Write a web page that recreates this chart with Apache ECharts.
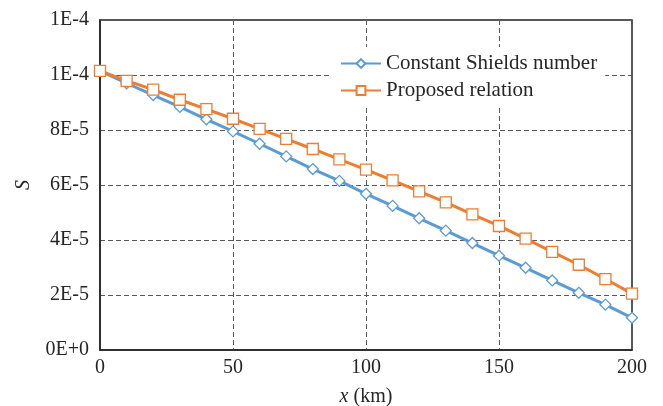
<!DOCTYPE html>
<html>
<head>
<meta charset="utf-8">
<script src="https://cdn.jsdelivr.net/npm/echarts@6/dist/echarts.min.js"></script>
<style>
  html, body { margin: 0; padding: 0; background: #fff; }
  #chart { width: 663px; height: 406px; }
</style>
</head>
<body>
<div id="chart"></div>
<script>
// Distance along the channel (km)
const distanceKm = [0, 10, 20, 30, 40, 50, 60, 70, 80, 90, 100, 110, 120, 130, 140, 150, 160, 170, 180, 190, 200];

// Slope S, in units of 1E-6
const constantShields = [101.5, 97.0, 92.7, 88.4, 83.9, 79.5, 75.0, 70.4, 65.8, 61.5, 56.8, 52.4, 47.9, 43.4, 38.9, 34.3, 29.9, 25.3, 20.8, 16.5, 11.7];
const proposedRelation = [101.5, 97.9, 94.7, 91.0, 87.6, 84.1, 80.4, 76.8, 73.1, 69.3, 65.6, 61.7, 57.7, 53.7, 49.3, 45.1, 40.5, 35.7, 31.0, 25.8, 20.5];

// Y-axis tick labels (scientific format with integer mantissa)
const yTickLabels = ['0E+0', '2E-5', '4E-5', '6E-5', '8E-5', '1E-4', '1E-4'];
const yStep = 2e-5;

const seriesNames = ['Constant Shields number', 'Proposed relation'];

const FONT = '"Liberation Serif", "Times New Roman", serif';
const TEXT = '#262626';

function pairs(ys) {
  return distanceKm.map((x, i) => [x, ys[i] * 1e-6]);
}

const chart = echarts.init(document.getElementById('chart'), null, { renderer: 'canvas' });

const gridLine = { show: true, lineStyle: { color: '#595959', type: [5, 3], width: 1 } };

chart.setOption({
  animation: false,
  backgroundColor: '#fff',
  textStyle: { fontFamily: FONT },
  grid: {
    left: 100, right: 31, top: 20, bottom: 56,
    outerBoundsMode: 'none',
    containLabel: false,
    show: true, borderColor: '#222', borderWidth: 1.5, backgroundColor: 'transparent'
  },
  legend: {
    left: 332, top: 47,
    orient: 'vertical',
    itemWidth: 40, itemHeight: 11, itemGap: 6,
    backgroundColor: '#fff',
    padding: [6, 8, 6, 8],
    textStyle: { fontFamily: FONT, fontSize: 21, color: TEXT },
    data: seriesNames
  },
  xAxis: {
    type: 'value',
    min: 0, max: 200, interval: 50,
    name: '{i|x} (km)',
    nameLocation: 'middle',
    nameGap: 37,
    nameTextStyle: {
      fontFamily: FONT, fontSize: 20, color: TEXT,
      rich: { i: { fontFamily: FONT, fontSize: 20, fontStyle: 'italic', color: TEXT } }
    },
    axisLine: { show: true, lineStyle: { color: '#222', width: 1.5 } },
    axisTick: { show: false },
    axisLabel: { fontFamily: FONT, fontSize: 20, color: TEXT, margin: 8 },
    splitLine: gridLine
  },
  yAxis: {
    type: 'value',
    min: 0, max: 1.2e-4, interval: yStep,
    name: 'S',
    nameLocation: 'middle',
    nameGap: 66,
    nameTextStyle: { fontFamily: FONT, fontSize: 20, fontStyle: 'italic', color: TEXT },
    axisLine: { show: true, lineStyle: { color: '#222', width: 1.5 } },
    axisTick: { show: false },
    axisLabel: {
      fontFamily: FONT, fontSize: 20, color: TEXT, margin: 11,
      formatter: v => yTickLabels[Math.round(v / yStep)] || ''
    },
    splitLine: gridLine
  },
  series: [
    {
      name: seriesNames[0],
      type: 'line',
      data: pairs(constantShields),
      symbol: 'diamond',
      symbolSize: 11,
      showAllSymbol: true,
      lineStyle: { color: '#5B9BD5', width: 3 },
      itemStyle: { color: '#fff', borderColor: '#5B9BD5', borderWidth: 1.3 },
      z: 2
    },
    {
      name: seriesNames[1],
      type: 'line',
      data: pairs(proposedRelation),
      symbol: 'rect',
      symbolSize: 11,
      showAllSymbol: true,
      lineStyle: { color: '#ED7D31', width: 3 },
      itemStyle: { color: '#fff', borderColor: '#ED7D31', borderWidth: 1.3 },
      z: 3
    }
  ]
});
</script>
</body>
</html>
